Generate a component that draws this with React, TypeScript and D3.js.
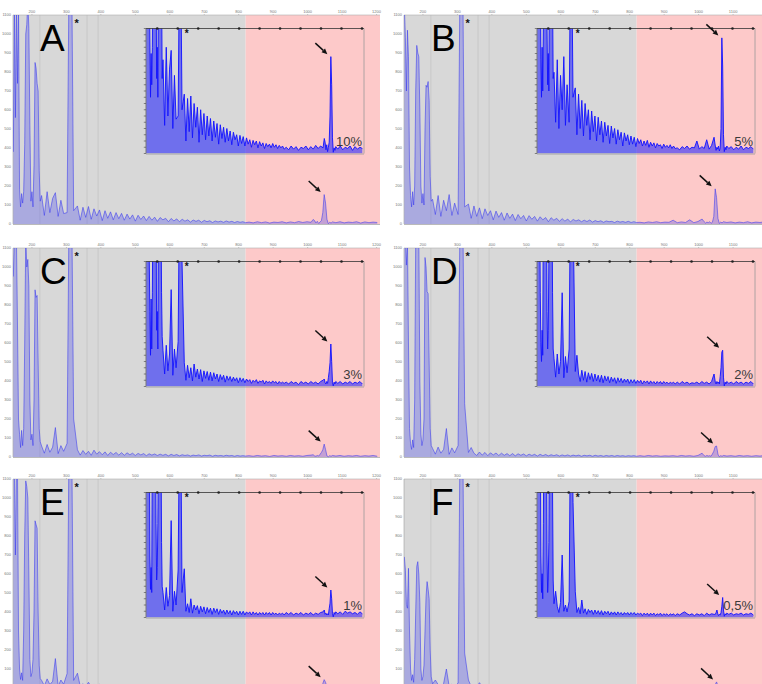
import React from 'react';
import * as d3 from 'd3';

// ---------- DATA ----------
const panelLetters = ['A', 'B', 'C', 'D', 'E', 'F'];
const percentLabels = ['10%', '5%', '3%', '2%', '1%', '0,5%'];
const xTickValues = [200, 300, 400, 500, 600, 700, 800, 900, 1000, 1100, 1200];
const yTickValues = [0, 100, 200, 300, 400, 500, 600, 700, 800, 900, 1000, 1100];
const insetYTickValues = [0, 10, 20, 30, 40, 50, 60, 70, 80, 90, 100, 110, 120, 130, 140, 150, 160, 170, 180, 190, 200];
const greyRegionEnd = 820;
const gridLinesU = [223, 360, 392];

// sampling positions (size units)
const xHead = [146, 149, 152, 155, 158, 161, 164, 167, 170, 173, 176, 179, 182, 185, 188, 191, 194, 197, 200, 203, 206, 209, 212, 215, 218, 221, 224];
const xMid = [228, 236, 244, 252, 260, 268, 276, 284, 292, 302, 308, 315, 321, 332, 340, 348, 356, 364, 372, 380, 388, 396, 404, 412, 420, 428, 436, 444, 452, 460, 468, 476, 484, 492, 500, 508, 516, 524, 532, 540, 548, 556, 564, 572, 580, 588, 596, 604, 612, 620, 628, 636, 644, 652, 660, 668, 676, 684, 692, 700, 708, 716, 724, 732, 740, 748, 756, 764, 772, 780, 788, 796, 804, 812, 820];
const xTail = [830, 842, 854, 866, 878, 890, 902, 914, 926, 938, 950, 962, 974, 986, 998, 1010, 1016, 1020, 1024, 1028, 1032, 1036, 1040, 1044, 1048, 1052, 1056, 1060, 1064, 1068, 1072, 1082, 1094, 1106, 1118, 1130, 1142, 1154, 1166, 1178, 1190, 1202];

// Panel A (10%)
const aHead = [380, 1180, 560, 1150, 740, 1160, 180, 90, 160, 110, 170, 420, 1000, 1050, 1180, 1030, 520, 120, 170, 90, 310, 850, 820, 740, 700, 280, 120];
const aMid = [150, 45, 170, 60, 135, 165, 40, 125, 55, 60,
  1600, 1600, 70,
  95, 20, 88, 35, 92, 25, 80, 42, 74, 18, 70, 30, 64, 22, 60, 28, 56,
  20, 52, 26, 48, 15, 46, 24, 42, 18, 40, 20, 36, 14, 34, 22, 30, 12, 29, 16, 27,
  12, 25, 15, 22, 10, 21, 14, 20, 9, 19, 12, 17, 8, 16, 11, 15, 9, 16, 10, 14, 8, 13, 9, 12, 7];
const aTail = [10, 6, 12, 7, 11, 5, 10, 8, 12, 6, 11, 7, 13, 8, 12, 9,
  24, 18, 6, 14, 3, 10, 18, 60, 155, 110, 25, 2, 9, 5, 11,
  7, 12, 6, 10, 8, 12, 5, 11, 7, 10, 8];

// Panel B (5%)
const bHead = [1150, 980, 700, 1020, 880, 300, 150, 90, 170, 100, 200, 700, 940, 900, 880, 600, 200, 110, 160, 100, 500, 730, 720, 750, 650, 250, 120];
const bMid = [130, 50, 150, 40, 125, 70, 155, 45, 110, 50,
  1600, 1600, 90,
  105, 30, 95, 40, 85, 28, 80, 45, 70, 22, 68, 35, 60, 20, 58, 30, 52,
  18, 50, 28, 45, 16, 44, 25, 40, 15, 38, 22, 34, 12, 33, 20, 30, 14, 28, 15, 26,
  11, 24, 16, 22, 12, 20, 13, 21, 10, 18, 12, 17, 9, 16, 12, 14, 8, 15, 10, 13, 9, 14, 8, 12, 8];
const bTail = [9, 6, 11, 8, 12, 7, 10, 9, 20, 7, 11, 8, 22, 7, 13, 26,
  12, 5, 10, 7, 12, 4, 9, 40, 185, 140, 30, 3, 10, 6, 12,
  8, 11, 6, 10, 7, 12, 6, 10, 8, 11, 7];

// Panel C (3%)
const cHead = [950, 1150, 1150, 1150, 700, 200, 120, 50, 140, 60, 150, 600, 1150, 1000, 1040, 900, 300, 90, 120, 60, 300, 880, 840, 850, 500, 150, 80];
const cMid = [58, 20, 66, 25, 52, 155, 18, 60, 30, 72,
  1600, 1600, 200,
  38, 10, 34, 14, 30, 9, 36, 15, 28, 12, 27, 8, 25, 13, 24, 10, 23,
  9, 22, 12, 20, 8, 19, 11, 18, 7, 17, 10, 16, 8, 15, 9, 14, 6, 14, 8, 13,
  6, 12, 8, 11, 5, 10, 7, 11, 5, 9, 7, 10, 4, 9, 6, 8, 5, 9, 6, 8, 4, 8, 5, 7, 5];
const cTail = [7, 4, 8, 5, 7, 3, 8, 5, 7, 4, 8, 5, 7, 4, 8, 10,
  12, 6, 4, 8, 5, 14, 24, 38, 68, 40, 6, 1, 7, 4, 8,
  5, 8, 4, 7, 5, 8, 4, 7, 5, 8, 4];

// Panel D (2%)
const dHead = [1150, 1150, 1010, 1150, 600, 150, 70, 40, 90, 50, 300, 1150, 1150, 1150, 1150, 400, 120, 60, 90, 200, 1050, 1000, 870, 860, 500, 150, 60];
const dMid = [45, 15, 52, 20, 40, 150, 14, 48, 22, 60,
  1600, 1600, 280,
  24, 50, 20, 8, 26, 10, 24, 7, 22, 11, 21, 8, 20, 9, 18, 7, 18,
  6, 17, 9, 16, 6, 15, 8, 14, 5, 14, 7, 13, 6, 12, 7, 12, 5, 11, 6, 11,
  5, 10, 6, 10, 4, 9, 6, 9, 4, 9, 5, 8, 4, 8, 5, 8, 4, 8, 5, 7, 4, 7, 5, 7, 4];
const dTail = [7, 4, 8, 5, 7, 4, 6, 5, 7, 4, 8, 5, 7, 4, 8, 20,
  7, 4, 8, 5, 7, 4, 16, 30, 55, 58, 15, 1, 7, 4, 8,
  5, 7, 4, 8, 5, 7, 4, 7, 5, 8, 4];

// Panel E (1%)
const eHead = [1150, 1150, 700, 1150, 1150, 300, 100, 45, 80, 40, 300, 800, 1090, 1060, 1000, 600, 150, 60, 80, 150, 400, 880, 860, 840, 400, 120, 50];
const eMid = [40, 12, 48, 18, 35, 155, 10, 42, 20, 76,
  1600, 1600, 40,
  78, 10, 22, 8, 30, 7, 20, 12, 19, 6, 18, 9, 17, 6, 16, 8, 15,
  5, 15, 8, 14, 5, 13, 7, 12, 5, 12, 6, 11, 4, 11, 6, 10, 4, 10, 5, 10,
  4, 9, 6, 9, 4, 9, 5, 8, 4, 8, 5, 8, 4, 8, 5, 8, 4, 8, 5, 7, 4, 7, 5, 7, 4];
const eTail = [8, 5, 8, 4, 7, 5, 8, 4, 7, 5, 8, 4, 7, 5, 8, 9,
  12, 5, 7, 4, 6, 4, 14, 23, 44, 30, 6, 1, 8, 5, 9,
  6, 9, 5, 10, 7, 9, 6, 8, 5, 9, 6];

// Panel F (0,5%)
const fHead = [690, 620, 440, 420, 630, 300, 100, 40, 70, 30, 150, 400, 640, 665, 600, 450, 100, 40, 60, 120, 300, 480, 560, 520, 470, 200, 60];
const fMid = [22, 42, 18, 8, 24, 100, 10, 20, 9, 26,
  1600, 1600, 184,
  42, 8, 16, 6, 28, 7, 14, 5, 13, 8, 12, 5, 12, 6, 11, 5, 11,
  4, 10, 6, 10, 4, 9, 5, 9, 4, 9, 5, 8, 4, 8, 5, 8, 4, 8, 5, 8,
  4, 7, 5, 7, 3, 7, 4, 7, 3, 7, 4, 7, 3, 6, 4, 7, 3, 6, 4, 6, 3, 6, 4, 6, 3];
const fTail = [6, 4, 7, 9, 6, 4, 6, 3, 6, 4, 6, 3, 7, 4, 6, 5,
  5, 8, 12, 6, 3, 5, 4, 8, 18, 32, 12, 2, 6, 4, 7,
  5, 7, 4, 6, 5, 7, 4, 6, 5, 7, 4];

const panelSeries = [
  [aHead, aMid, aTail],
  [bHead, bMid, bTail],
  [cHead, cMid, cTail],
  [dHead, dMid, dTail],
  [eHead, eMid, eTail],
  [fHead, fMid, fTail],
];

// ---------- LAYOUT ----------
const W = 762;
const H = 684;
const colLeft = [13, 404];
const colClipRight = [380, 762];
const rowTop = [15, 248, 479];
const plotW = 367;
const plotH = 209;
const xDomain = [145, 1210];
const FONT = 'Liberation Sans, Arial, Helvetica, sans-serif';

type Pt = [number, number];

function Arrow({ tipX, tipY }: { tipX: number; tipY: number }) {
  const dx = 12, dy = 11;
  const len = Math.hypot(dx, dy);
  const ux = dx / len, uy = dy / len;
  const hl = 5.5, hw = 2.6;
  const bx = tipX - ux * hl, by = tipY - uy * hl;
  return (
    <g>
      <line x1={tipX - dx} y1={tipY - dy} x2={bx} y2={by} stroke="#111" strokeWidth={1.5} />
      <polygon
        points={`${tipX},${tipY} ${bx - uy * hw},${by + ux * hw} ${bx + uy * hw},${by - ux * hw}`}
        fill="#111"
      />
    </g>
  );
}

function Panel({ idx }: { idx: number }) {
  const col = idx % 2;
  const row = Math.floor(idx / 2);
  const left = colLeft[col];
  const top = rowTop[row];
  const right = colClipRight[col];
  const bottom = top + plotH;

  const x = d3.scaleLinear().domain(xDomain).range([left, left + plotW]);
  const y = d3.scaleLinear().domain([0, 1100]).range([bottom, top]);

  const iL = left + 133;
  const iT = top + 13.5;
  const iW = 218;
  const iH = 125;
  const ix = d3.scaleLinear().domain(xDomain).range([iL, iL + iW]);
  const iy = d3.scaleLinear().domain([0, 200]).range([iT + iH, iT]);

  const [head, mid, tail] = panelSeries[idx];
  const xs = [...xHead, ...xMid, ...xTail];
  const vs = [...head, ...mid, ...tail];
  const pts: Pt[] = xs.map((u, i) => [u, vs[i]]);

  const mainLine = d3.line<Pt>().x((d) => x(d[0])).y((d) => y(Math.min(d[1], 1400)));
  const mainArea = d3.area<Pt>().x((d) => x(d[0])).y0(bottom).y1((d) => y(Math.min(d[1], 1400)));
  const insetLine = d3.line<Pt>().x((d) => ix(d[0])).y((d) => iy(Math.min(d[1], 300)));
  const insetArea = d3.area<Pt>().x((d) => ix(d[0])).y0(iT + iH).y1((d) => iy(Math.min(d[1], 300)));

  // target peak from tail window
  let pk: Pt = [xTail[16], tail[16]];
  for (let k = 16; k <= 30; k++) {
    if (tail[k] > pk[1]) pk = [xTail[k], tail[k]];
  }

  const clipMain = `clipMain${idx}`;
  const clipInset = `clipInset${idx}`;
  const greyX = x(greyRegionEnd);

  return (
    <g>
      <defs>
        <clipPath id={clipMain}>
          <rect x={left} y={top} width={right - left} height={plotH + 1} />
        </clipPath>
        <clipPath id={clipInset}>
          <rect x={iL} y={iT} width={iW} height={iH} />
        </clipPath>
      </defs>

      {/* backgrounds */}
      <rect x={left} y={top} width={greyX - left} height={plotH} fill="#d8d8d8" />
      <rect x={greyX} y={top} width={Math.max(0, right - greyX)} height={plotH} fill="#fdc9c9" />
      {gridLinesU.map((u) => (
        <line key={u} x1={x(u)} x2={x(u)} y1={top} y2={bottom} stroke="#c2c2c2" strokeWidth={0.7} />
      ))}

      {/* main axes */}
      <line x1={left} x2={right} y1={top} y2={top} stroke="#b0b0b0" strokeWidth={0.6} />
      <line x1={left} x2={left} y1={top} y2={bottom} stroke="#a0a0a0" strokeWidth={0.6} />
      <line x1={left} x2={right} y1={bottom + 0.5} y2={bottom + 0.5} stroke="#a8a8a8" strokeWidth={0.8} />
      {xTickValues.map((t) =>
        x(t) <= right ? (
          <g key={t}>
            <text x={x(t)} y={top - 2.5} fontSize={4} fill="#777" textAnchor="middle" fontFamily={FONT}>
              {t}
            </text>
            <line x1={x(t)} x2={x(t)} y1={top} y2={top - 1} stroke="#999" strokeWidth={0.5} />
          </g>
        ) : null
      )}
      {yTickValues.map((t) =>
        y(t) < H - 3 ? (
          <text key={t} x={left - 2} y={y(t) + 1.4} fontSize={4} fill="#777" textAnchor="end" fontFamily={FONT}>
            {t}
          </text>
        ) : null
      )}

      {/* main trace */}
      <g clipPath={`url(#${clipMain})`}>
        <path d={mainArea(pts) || ''} fill="#4a4af0" fillOpacity={0.32} stroke="none" />
        <path d={mainLine(pts) || ''} fill="none" stroke="#3434f0" strokeOpacity={0.6} strokeWidth={0.9} />
      </g>

      {/* letter + star */}
      <text x={left + 27} y={top + 35.5} fontSize={37} fontFamily={FONT} fill="#000">
        {panelLetters[idx]}
      </text>
      <text x={x(315) + 3} y={top + 12} fontSize={11} fontWeight="bold" fontFamily={FONT} fill="#111">
        *
      </text>

      {/* main arrow */}
      <Arrow tipX={x(pk[0]) - 3.5} tipY={y(pk[1]) - 2.5} />

      {/* inset */}
      <g clipPath={`url(#${clipInset})`}>
        <path d={insetArea(pts) || ''} fill="#1a1aff" fillOpacity={0.55} stroke="none" />
        <path d={insetLine(pts) || ''} fill="none" stroke="#1414ff" strokeOpacity={0.92} strokeWidth={1} />
      </g>
      <line x1={iL} x2={iL + iW} y1={iT} y2={iT} stroke="#333" strokeWidth={0.8} />
      <line x1={iL + iW} x2={iL + iW} y1={iT} y2={iT + iH} stroke="#9a9a9a" strokeWidth={0.8} />
      <line x1={iL} x2={iL + iW} y1={iT + iH + 0.5} y2={iT + iH + 0.5} stroke="#9a9a9a" strokeWidth={0.8} />
      <line x1={iL} x2={iL} y1={iT} y2={iT + iH} stroke="#555" strokeWidth={0.7} />
      {insetYTickValues.map((t) => (
        <line key={t} x1={iL - 2.2} x2={iL} y1={iy(t)} y2={iy(t)} stroke="#444" strokeWidth={0.6} />
      ))}
      {xTickValues.map((t) => (
        <circle key={t} cx={ix(t)} cy={iT} r={1.3} fill="#222" />
      ))}
      <text x={ix(315) + 4} y={iT + 8} fontSize={10} fontWeight="bold" fontFamily={FONT} fill="#111">
        *
      </text>
      <Arrow tipX={ix(pk[0]) - 3.5} tipY={iy(pk[1]) - 2.5} />
      <text
        x={iL + iW - 2}
        y={iT + iH - 7.5}
        fontSize={13}
        fontFamily={FONT}
        fill="#3a3a3a"
        textAnchor="end"
      >
        {percentLabels[idx]}
      </text>
    </g>
  );
}

export default function App() {
  return (
    <svg
      width={W}
      height={H}
      viewBox={`0 0 ${W} ${H}`}
      style={{ position: 'absolute', left: 0, top: 0, background: '#fff' }}
    >
      <rect x={0} y={0} width={W} height={H} fill="#fff" />
      {panelLetters.map((_, i) => (
        <Panel key={i} idx={i} />
      ))}
    </svg>
  );
}
